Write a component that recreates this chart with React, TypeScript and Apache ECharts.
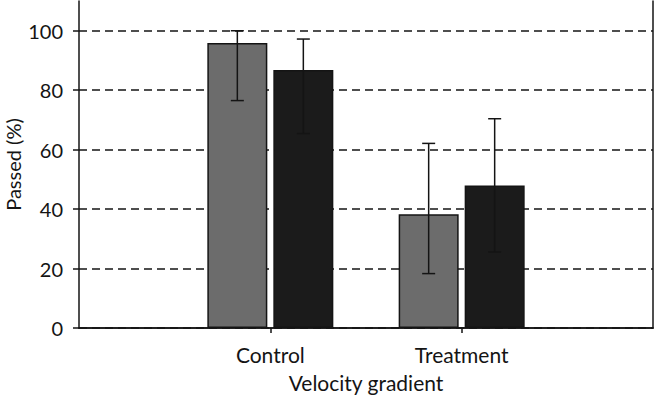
// grouped bar chart with error bars
import * as echarts from 'echarts'
import type { EChartsOption } from 'echarts'
import { useEffect, useRef } from 'react'

const categories = ['', 'Control', 'Treatment', '']
const yTicks = [0, 20, 40, 60, 80, 100]

// first group (grey) and second group (black), index = category position
const greyMean = [95.9, 38.3]
const greyLow = [76.5, 18.3]
const greyHigh = [100, 62.1]
const blackMean = [86.8, 47.9]
const blackLow = [65.4, 25.6]
const blackHigh = [97.2, 70.4]

const BAR_W = 60
const GAP = 6
const FONT = 'Lato'
const INK = '#141414'

const errorSeries = (low: number[], high: number[], offset: number) => ({
  type: 'custom' as const,
  z: 5,
  data: low.map((l, i) => [i + 1, l, high[i]]),
  renderItem: (_params: any, api: any) => {
    const lo = api.coord([api.value(0), api.value(1)])
    const hi = api.coord([api.value(0), api.value(2)])
    const x = lo[0] + offset
    const cap = 6.5
    const style = { stroke: INK, lineWidth: 1.5 }
    return {
      type: 'group',
      children: [
        { type: 'line', shape: { x1: x, y1: lo[1], x2: x, y2: hi[1] }, style },
        { type: 'line', shape: { x1: x - cap, y1: lo[1], x2: x + cap, y2: lo[1] }, style },
        { type: 'line', shape: { x1: x - cap, y1: hi[1], x2: x + cap, y2: hi[1] }, style },
      ],
    }
  },
})

const App = () => {
  const chartRef = useRef<HTMLDivElement | null>(null)
  useEffect(() => {
    document.body.style.margin = '0'
    document.body.style.overflow = 'hidden'
    document.documentElement.style.overflow = 'hidden'
    if (!chartRef.current) return
    const myChart = echarts.init(chartRef.current, null, { renderer: 'svg' })
    const option: EChartsOption = {
      animation: false,
      textStyle: { fontFamily: FONT },
      grid: {
        left: 79, right: 1, top: 1, bottom: 77,
        containLabel: false,
        outerBoundsMode: 'none',
      } as any,
      xAxis: [
        {
          type: 'category',
          data: categories,
          boundaryGap: false,
          name: 'Velocity gradient',
          nameLocation: 'middle',
          nameGap: 44,
          nameTextStyle: { fontSize: 21, color: INK, fontFamily: FONT },
          axisLine: { lineStyle: { color: INK, width: 1.5 } },
          axisTick: {
            length: 5,
            interval: (idx: number) => idx === 1 || idx === 2,
            lineStyle: { color: INK, width: 1.5 },
          },
          axisLabel: {
            interval: (idx: number) => idx === 1 || idx === 2,
            fontSize: 21, color: INK, margin: 16, fontFamily: FONT,
          },
          splitLine: { show: false },
        },
        {
          // top frame line
          type: 'category', data: categories, boundaryGap: false, position: 'top',
          axisLine: { lineStyle: { color: INK, width: 1.5 } },
          axisTick: { show: false }, axisLabel: { show: false }, splitLine: { show: false },
        },
      ],
      yAxis: [
        {
          type: 'value',
          min: 0, max: 110, interval: 20,
          name: 'Passed (%)',
          nameLocation: 'middle',
          nameGap: 56,
          nameMoveOverlap: false,
          nameTextStyle: { fontSize: 20, color: INK, fontFamily: FONT },
          axisLine: { show: true, lineStyle: { color: INK, width: 1.5 } },
          axisTick: { show: true, length: 6, customValues: yTicks, lineStyle: { color: INK, width: 1.5 } },
          axisLabel: { customValues: yTicks, fontSize: 20, color: INK, margin: 16, fontFamily: FONT },
          splitLine: { show: true, lineStyle: { color: INK, width: 1.5, type: [8, 5] } },
        } as any,
        {
          // right frame line
          type: 'value', min: 0, max: 110, position: 'right',
          axisLine: { show: true, lineStyle: { color: INK, width: 1.5 } },
          axisTick: { show: false }, axisLabel: { show: false }, splitLine: { show: false },
        },
      ],
      series: [
        {
          type: 'bar',
          data: [null, ...greyMean, null],
          barWidth: BAR_W,
          barGap: (GAP / BAR_W) * 100 + '%',
          itemStyle: { color: '#6c6c6c', borderColor: INK, borderWidth: 1.5 },
        },
        {
          type: 'bar',
          data: [null, ...blackMean, null],
          barWidth: BAR_W,
          itemStyle: { color: '#1b1b1b', borderColor: INK, borderWidth: 1.5 },
        },
        errorSeries(greyLow, greyHigh, -(BAR_W + GAP) / 2),
        errorSeries(blackLow, blackHigh, (BAR_W + GAP) / 2),
      ],
    }
    myChart.setOption(option)
    return () => {
      myChart.dispose()
    }
  }, [])
  return <div ref={chartRef} style={{ width: '654px', height: '405px' }}></div>
}
export default App
